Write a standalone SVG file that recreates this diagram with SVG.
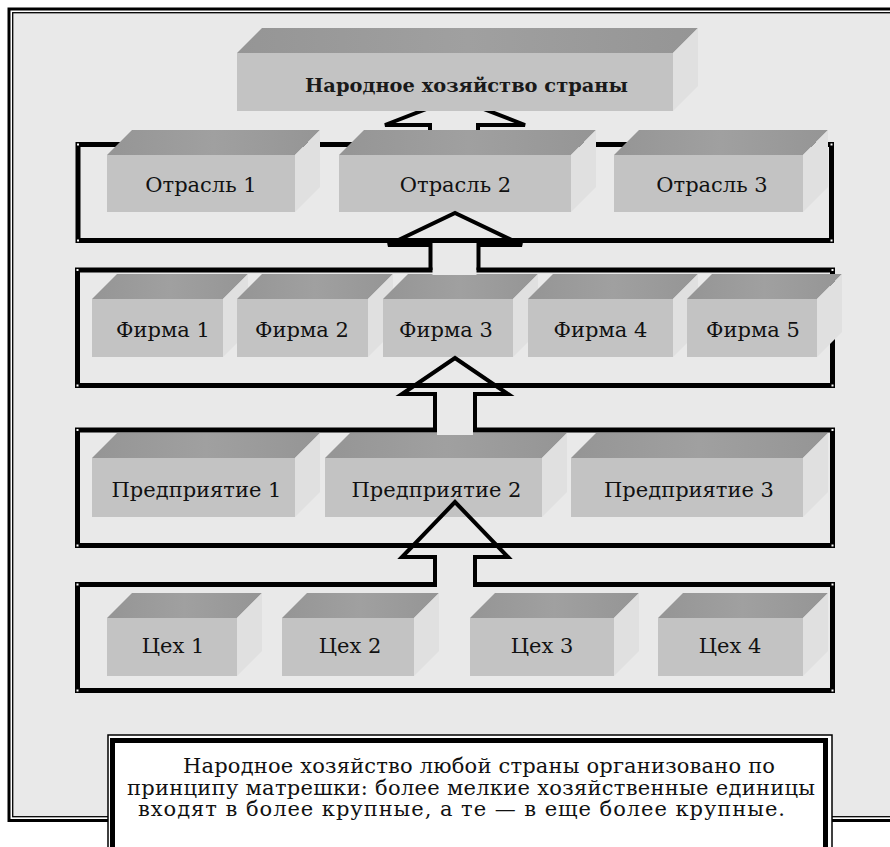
<svg xmlns="http://www.w3.org/2000/svg" width="890" height="847" viewBox="0 0 890 847">
<defs>
<linearGradient id="topg" x1="0" y1="0" x2="1" y2="0">
<stop offset="0" stop-color="#959595"/>
<stop offset="0.5" stop-color="#a0a0a0"/>
<stop offset="1" stop-color="#959595"/>
</linearGradient>
</defs>
<style>
.top{fill:url(#topg)}
.side{fill:#e0e0e0}
.front{fill:#c3c3c3}
.lbl{font-family:"DejaVu Serif","Liberation Serif",serif;font-size:21px;fill:#111;text-anchor:middle}
.ttl{font-family:"DejaVu Serif","Liberation Serif",serif;font-size:18px;font-weight:bold;fill:#1a1a1a}
.frame{fill:none;stroke:#000;stroke-width:5}
.arrow{fill:none;stroke:#000;stroke-width:4;stroke-linejoin:miter}
.gap{fill:#e9e9e9}
.dot{fill:#fff}
.note{font-family:"DejaVu Serif","Liberation Serif",serif;font-size:21px;fill:#111}
</style>
<rect width="890" height="847" fill="#fff"/>
<rect x="9" y="9" width="900" height="811.5" fill="#fff" stroke="#000" stroke-width="3"/>
<rect x="12.7" y="12.7" width="900" height="804" fill="#e9e9e9" stroke="#000" stroke-width="1.3"/>

<g id="frames">
<rect class="frame" x="78" y="144.5" width="753.5" height="96"/>
<rect class="frame" x="77.5" y="270" width="755" height="115.5"/>
<rect class="frame" x="77.5" y="430" width="755" height="115.5"/>
<rect class="frame" x="77.5" y="584.5" width="755" height="106"/>
<rect class="dot" x="77" y="143.5" width="2" height="2"/><rect class="dot" x="77" y="239.5" width="2" height="2"/><rect class="dot" x="830.5" y="143.5" width="2" height="2"/><rect class="dot" x="830.5" y="239.5" width="2" height="2"/>
<rect class="dot" x="76.5" y="269" width="2" height="2"/><rect class="dot" x="76.5" y="384.5" width="2" height="2"/><rect class="dot" x="831.5" y="269" width="2" height="2"/><rect class="dot" x="831.5" y="384.5" width="2" height="2"/>
<rect class="dot" x="76.5" y="429" width="2" height="2"/><rect class="dot" x="76.5" y="544.5" width="2" height="2"/><rect class="dot" x="831.5" y="429" width="2" height="2"/><rect class="dot" x="831.5" y="544.5" width="2" height="2"/>
<rect class="dot" x="76.5" y="583.5" width="2" height="2"/><rect class="dot" x="76.5" y="689.5" width="2" height="2"/><rect class="dot" x="831.5" y="583.5" width="2" height="2"/><rect class="dot" x="831.5" y="689.5" width="2" height="2"/>
</g>

<g id="connectors-under">
<path class="arrow" d="M430,150 L430,125 L385,125 L455,98 L525,125 L478,125 L478,150"/>
</g>

<g id="node-top">
<polygon class="top" points="237,53 262,28 698,28 673,53"/>
<polygon class="side" points="673,53 698,28 698,86 673,111"/>
<rect class="front" x="237" y="53" width="436" height="58"/>
<text class="ttl" x="305" y="92" textLength="323" lengthAdjust="spacingAndGlyphs">Народное хозяйство страны</text>
</g>

<g id="node-otrasl1">
<polygon class="top" points="107,155 132,130 320,130 295,155"/>
<polygon class="side" points="295,155 320,130 320,187 295,212"/>
<rect class="front" x="107" y="155" width="188" height="57"/>
<text class="lbl" x="201" y="192">Отрасль 1</text>
</g>
<g id="node-otrasl2">
<polygon class="top" points="339,155 364,130 596,130 571,155"/>
<polygon class="side" points="571,155 596,130 596,187 571,212"/>
<rect class="front" x="339" y="155" width="232" height="57"/>
<text class="lbl" x="455.5" y="192">Отрасль 2</text>
</g>
<g id="node-otrasl3">
<polygon class="top" points="614,155 639,130 828,130 803,155"/>
<polygon class="side" points="803,155 828,130 828,187 803,212"/>
<rect class="front" x="614" y="155" width="189" height="57"/>
<text class="lbl" x="712" y="192">Отрасль 3</text>
</g>

<g id="node-firma1">
<polygon class="top" points="92,299 117,274 248,274 223,299"/>
<polygon class="side" points="223,299 248,274 248,332 223,357"/>
<rect class="front" x="92" y="299" width="131" height="58"/>
<text class="lbl" x="163" y="337">Фирма 1</text>
</g>
<g id="node-firma2">
<polygon class="top" points="237,299 262,274 393,274 368,299"/>
<polygon class="side" points="368,299 393,274 393,332 368,357"/>
<rect class="front" x="237" y="299" width="131" height="58"/>
<text class="lbl" x="302" y="337">Фирма 2</text>
</g>
<g id="node-firma3">
<polygon class="top" points="383,299 408,274 538,274 513,299"/>
<polygon class="side" points="513,299 538,274 538,332 513,357"/>
<rect class="front" x="383" y="299" width="130" height="58"/>
<text class="lbl" x="446" y="337">Фирма 3</text>
</g>
<g id="node-firma4">
<polygon class="top" points="528,299 553,274 698,274 673,299"/>
<polygon class="side" points="673,299 698,274 698,332 673,357"/>
<rect class="front" x="528" y="299" width="145" height="58"/>
<text class="lbl" x="600.5" y="337">Фирма 4</text>
</g>
<g id="node-firma5">
<polygon class="top" points="687,299 712,274 842,274 817,299"/>
<polygon class="side" points="817,299 842,274 842,332 817,357"/>
<rect class="front" x="687" y="299" width="130" height="58"/>
<text class="lbl" x="753" y="337">Фирма 5</text>
</g>

<g id="node-pred1">
<polygon class="top" points="92,458 117,433 320,433 295,458"/>
<polygon class="side" points="295,458 320,433 320,492 295,517"/>
<rect class="front" x="92" y="458" width="203" height="59"/>
<text class="lbl" x="196.5" y="497">Предприятие 1</text>
</g>
<g id="node-pred2">
<polygon class="top" points="325,458 350,433 567,433 542,458"/>
<polygon class="side" points="542,458 567,433 567,492 542,517"/>
<rect class="front" x="325" y="458" width="217" height="59"/>
<text class="lbl" x="436.5" y="497">Предприятие 2</text>
</g>
<g id="node-pred3">
<polygon class="top" points="571,458 596,433 828,433 803,458"/>
<polygon class="side" points="803,458 828,433 828,492 803,517"/>
<rect class="front" x="571" y="458" width="232" height="59"/>
<text class="lbl" x="689" y="497">Предприятие 3</text>
</g>

<g id="node-ceh1">
<polygon class="top" points="107,618 132,593 262,593 237,618"/>
<polygon class="side" points="237,618 262,593 262,651 237,676"/>
<rect class="front" x="107" y="618" width="130" height="58"/>
<text class="lbl" x="173" y="653">Цех 1</text>
</g>
<g id="node-ceh2">
<polygon class="top" points="282,618 307,593 439,593 414,618"/>
<polygon class="side" points="414,618 439,593 439,651 414,676"/>
<rect class="front" x="282" y="618" width="132" height="58"/>
<text class="lbl" x="350" y="653">Цех 2</text>
</g>
<g id="node-ceh3">
<polygon class="top" points="470,618 495,593 639,593 614,618"/>
<polygon class="side" points="614,618 639,593 639,651 614,676"/>
<rect class="front" x="470" y="618" width="144" height="58"/>
<text class="lbl" x="542" y="653">Цех 3</text>
</g>
<g id="node-ceh4">
<polygon class="top" points="658,618 683,593 828,593 803,618"/>
<polygon class="side" points="803,618 828,593 828,651 803,676"/>
<rect class="front" x="658" y="618" width="145" height="58"/>
<text class="lbl" x="730" y="653">Цех 4</text>
</g>

<g id="connectors">
<rect class="gap" x="432.5" y="265" width="44" height="10"/>
<rect class="gap" x="437" y="425" width="36" height="10"/>
<rect class="gap" x="437" y="579" width="36" height="10"/>
<path class="arrow" d="M430.5,270 L430.5,245 L388,245 L455,213 L522,245 L478.5,245 L478.5,270"/>
<path class="arrow" d="M435,430 L435,394 L402,394 L455,358 L508,394 L475,394 L475,430"/>
<path class="arrow" d="M435,584.5 L435,557 L402,557 L455,502 L508,557 L475,557 L475,584.5"/>
</g>

<g id="note">
<rect x="108" y="735" width="724" height="200" fill="#fff" stroke="#000" stroke-width="1.5"/>
<rect x="112.5" y="740.5" width="713" height="200" fill="#fff" stroke="#000" stroke-width="5"/>
<text class="note" x="183" y="773" textLength="592" lengthAdjust="spacing">Народное хозяйство любой страны организовано по</text>
<text class="note" x="127" y="795" textLength="688" lengthAdjust="spacing">принципу матрешки: более мелкие хозяйственные единицы</text>
<text class="note" x="138" y="816" textLength="647" lengthAdjust="spacing">входят в более крупные, а те — в еще более крупные.</text>
</g>
</svg>
